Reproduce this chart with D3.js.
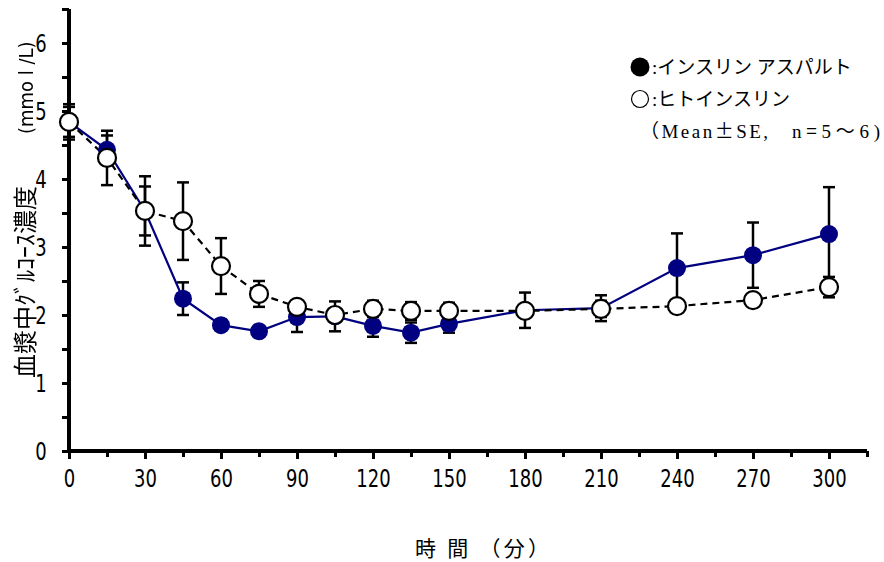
<!DOCTYPE html>
<html>
<head>
<meta charset="utf-8">
<script src="https://cdn.jsdelivr.net/npm/d3@7"></script>
<style>
  html, body { margin: 0; padding: 0; background: #fff; }
  svg { display: block; }
  .tick-label { font-family: "Liberation Sans Narrow", "DejaVu Sans Condensed", "Liberation Sans", sans-serif; font-size: 25px; fill: #000;
    transform-box: fill-box; transform-origin: center; transform: scaleX(0.8); }
  .narrow { font-family: "Liberation Sans Narrow", "DejaVu Sans Condensed", "Liberation Sans", sans-serif; fill: #000; }
  .cjk { font-family: "Noto Sans CJK JP", sans-serif; fill: #000; }
  .vlabel { filter: grayscale(1); }
  .legend { font-family: "Liberation Serif", "Noto Sans CJK JP", serif; font-size: 19px; fill: #000; }
  .legend .fw { font-family: "Noto Sans CJK JP", sans-serif; }
</style>
</head>
<body>
<svg id="chart" width="884" height="562"></svg>
<script>
// Time points (minutes after dosing)
const times = [0, 15, 30, 45, 60, 75, 90, 105, 120, 135, 150, 180, 210, 240, 270, 300];
// Insulin aspart: mean plasma glucose (mmol/L) and SE
const aspart   = [4.84, 4.43, 3.53, 2.24, 1.85, 1.76, 1.97, 1.98, 1.84, 1.74, 1.87, 2.07, 2.10, 2.69, 2.88, 3.19];
const aspartSE = [0.22, 0.21, 0.36, 0.24, 0.08, 0.06, 0.22, 0.22, 0.16, 0.15, 0.13, 0.26, 0.19, 0.51, 0.48, 0.69];
// Human insulin: mean plasma glucose (mmol/L) and SE
const human    = [4.84, 4.31, 3.53, 3.38, 2.72, 2.31, 2.12, 2.00, 2.09, 2.06, 2.06, 2.06, 2.09, 2.13, 2.22, 2.41];
const humanSE  = [0.26, 0.40, 0.51, 0.57, 0.41, 0.19, 0.08, 0.10, 0.12, 0.13, 0.12, 0.10, 0.12, 0.08, 0.08, 0.15];
// Axis ticks
const xTicks = [0, 30, 60, 90, 120, 150, 180, 210, 240, 270, 300];
const xMinor = d3.range(15, 316, 30);
const yTicks = [0, 1, 2, 3, 4, 5, 6];
const yMinor = [0.5, 1.5, 2.5, 3.5, 4.5, 5.5, 6.5];

const svg = d3.select("#chart");
const x = d3.scaleLinear().domain([0, 315]).range([69, 867]);
const y = d3.scaleLinear().domain([0, 6.5]).range([451, 9]);

// Minor ticks
svg.append("g").attr("transform", `translate(0,${y(0)})`)
  .call(d3.axisBottom(x).tickValues(xMinor).tickSize(6).tickFormat(""))
  .call(g => g.select(".domain").remove())
  .call(g => g.selectAll("line").attr("stroke-width", 3));
svg.append("g").attr("transform", `translate(${x(0)},0)`)
  .call(d3.axisLeft(y).tickValues(yMinor).tickSize(7).tickFormat(""))
  .call(g => g.select(".domain").remove())
  .call(g => g.selectAll("line").attr("stroke-width", 3));

// Major ticks with labels
const xAxis = svg.append("g").attr("transform", `translate(0,${y(0)})`)
  .call(d3.axisBottom(x).tickValues(xTicks).tickFormat(d3.format("d")).tickSize(8).tickPadding(10).tickSizeOuter(0));
xAxis.select(".domain").remove();
xAxis.selectAll("line").attr("stroke-width", 3);
xAxis.selectAll("text").attr("class", "tick-label");
xAxis.attr("font-size", null).attr("font-family", null);

const yAxis = svg.append("g").attr("transform", `translate(${x(0)},0)`)
  .call(d3.axisLeft(y).tickValues(yTicks).tickFormat(d3.format("d")).tickSize(7).tickPadding(14).tickSizeOuter(0));
yAxis.select(".domain").remove();
yAxis.selectAll("line").attr("stroke-width", 3);
yAxis.selectAll("text").attr("class", "tick-label");
yAxis.attr("font-size", null).attr("font-family", null);

// Axis lines
svg.append("line").attr("x1", x(0) - 2).attr("x2", x(315)).attr("y1", y(0)).attr("y2", y(0))
  .attr("stroke", "#000").attr("stroke-width", 4);
svg.append("line").attr("x1", x(0)).attr("x2", x(0)).attr("y1", y(0) + 2).attr("y2", y(6.5))
  .attr("stroke", "#000").attr("stroke-width", 4);

// Error bars (mean ± SE)
function errorBars(vals, ses) {
  const g = svg.append("g").attr("stroke", "#000").attr("stroke-width", 2.5);
  times.forEach((t, i) => {
    const cx = x(t), top = y(vals[i] + ses[i]), bot = y(vals[i] - ses[i]);
    g.append("line").attr("x1", cx).attr("x2", cx).attr("y1", top).attr("y2", bot);
    g.append("line").attr("x1", cx - 6).attr("x2", cx + 6).attr("y1", top).attr("y2", top);
    g.append("line").attr("x1", cx - 6).attr("x2", cx + 6).attr("y1", bot).attr("y2", bot);
  });
}
errorBars(aspart, aspartSE);
errorBars(human, humanSE);

const line = d3.line().x((d, i) => x(times[i])).y(d => y(d));

svg.append("path").datum(aspart).attr("d", line)
  .attr("fill", "none").attr("stroke", "#000080").attr("stroke-width", 2.2);
svg.append("path").datum(human).attr("d", line)
  .attr("fill", "none").attr("stroke", "#000").attr("stroke-width", 2.2)
  .attr("stroke-dasharray", "7,5");

svg.append("g").selectAll("circle").data(aspart).join("circle")
  .attr("cx", (d, i) => x(times[i])).attr("cy", d => y(d)).attr("r", 9)
  .attr("fill", "#000080");
svg.append("g").selectAll("circle").data(human).join("circle")
  .attr("cx", (d, i) => x(times[i])).attr("cy", d => y(d)).attr("r", 9)
  .attr("fill", "#fff").attr("stroke", "#000").attr("stroke-width", 2.2);

// Axis titles
svg.append("text").attr("class", "cjk vlabel")
  .attr("transform", "translate(34,378) rotate(-90)")
  .attr("font-size", 24)
  .text("血漿中ｸﾞﾙｺｰｽ濃度");
svg.append("text").attr("class", "narrow vlabel")
  .attr("transform", "translate(33,134) rotate(-90)")
  .attr("font-size", 20)
  .text("(mmo l /L)");
svg.append("text").attr("class", "cjk")
  .attr("x", 415).attr("y", 556).attr("font-size", 21).attr("textLength", 134)
  .text("時 間 （分）");

// Legend
const legend = svg.append("g");
legend.append("circle").attr("cx", 640).attr("cy", 67).attr("r", 9.5).attr("fill", "#000");
legend.append("text").attr("class", "legend").attr("x", 652).attr("y", 74).text(":インスリン アスパルト");
legend.append("circle").attr("cx", 640).attr("cy", 99).attr("r", 8.5)
  .attr("fill", "#fff").attr("stroke", "#000").attr("stroke-width", 1.2);
legend.append("text").attr("class", "legend").attr("x", 652).attr("y", 106).text(":ヒトインスリン");

const note1 = legend.append("text").attr("class", "legend").attr("x", 640).attr("y", 138).attr("textLength", 128);
note1.append("tspan").attr("class", "fw").text("（");
note1.append("tspan").text("Mean");
note1.append("tspan").attr("class", "fw").text("±");
note1.append("tspan").text("SE,");
const note2 = legend.append("text").attr("class", "legend").attr("x", 792).attr("y", 138).attr("textLength", 88);
note2.append("tspan").text("n");
note2.append("tspan").attr("class", "fw").text("=");
note2.append("tspan").text("5");
note2.append("tspan").attr("class", "fw").text("～");
note2.append("tspan").text("6)");
</script>
</body>
</html>
